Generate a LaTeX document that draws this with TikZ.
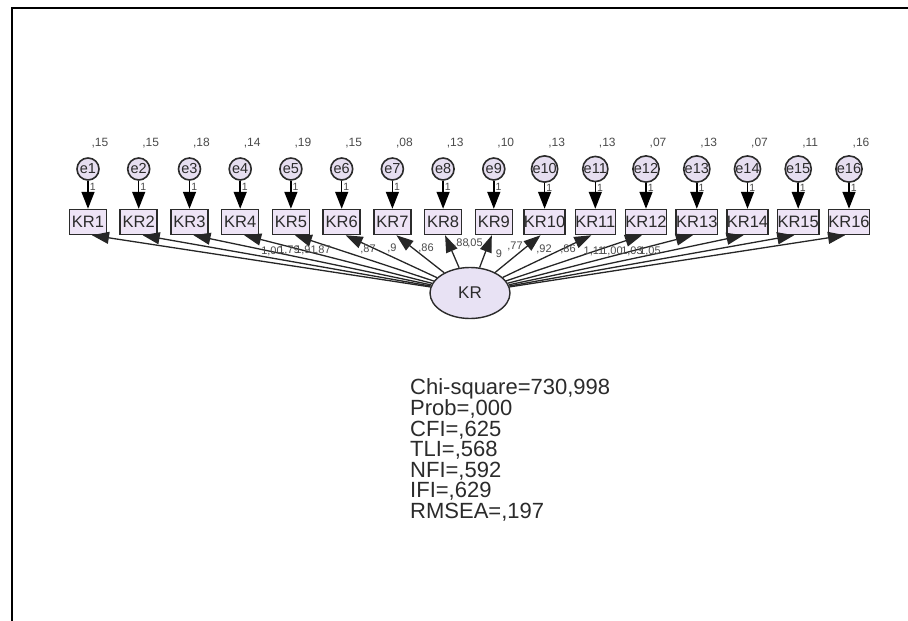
\documentclass[tikz,border=0pt]{standalone}
\usepackage{fontspec}
\setmainfont{Liberation Sans}
\usepackage{xcolor}
\usepackage{tikz}
\usetikzlibrary{positioning,arrows.meta,shapes.geometric}
\definecolor{boxfill}{RGB}{238,228,246}
\definecolor{circfill}{RGB}{230,222,240}
\definecolor{latfill}{RGB}{232,226,244}
\definecolor{inkdark}{HTML}{2B2B2B}
\definecolor{labgray}{HTML}{4A4A4A}

\begin{document}
\begin{tikzpicture}[x=1pt, y=-1pt,
  obsbox/.style={draw=inkdark, fill=boxfill, line width=1.5pt, minimum width=37pt, minimum height=25pt, inner sep=0pt, font=\fontsize{16.5}{16.5}\selectfont, text=inkdark},
  errcirc/.style={circle, draw=inkdark, fill=circfill, line width=1.6pt, minimum size=22pt, inner sep=0pt, font=\fontsize{14.5}{14.5}\selectfont, text=inkdark},
  latent/.style={ellipse, draw=inkdark, fill=latfill, line width=1.4pt, minimum width=80pt, minimum height=51pt, inner sep=0pt, font=\fontsize{17}{17}\selectfont, text=inkdark},
  varlabel/.style={inner sep=0pt, font=\fontsize{12}{12}\selectfont, text=labgray},
  loadlabel/.style={inner sep=0pt, font=\fontsize{11}{11}\selectfont, text=labgray},
  onelabel/.style={right, pos=0.2, inner sep=1pt, font=\fontsize{10.5}{10.5}\selectfont, text=labgray},
  errarrow/.style={-{Triangle[length=17pt, width=13pt]}, draw=black, line width=1.5pt},
  loadarrow/.style={-{Triangle[length=17pt, width=12pt]}, draw=black!85, line width=1.3pt},
  fitnote/.style={anchor=north west, inner sep=0pt, align=left, font=\fontsize{22}{20.5}\selectfont, text=inkdark}]
\useasboundingbox (0,0) rectangle (908,621);
% frame of the screenshot
\draw[line width=2pt] (12,621) -- (12,8) -- (908,8);
% error terms and indicators
\node[errcirc] (e1) at (88.0,169) {e1};
\node[varlabel] (v1) at (100.0,143) {,15};
\node[obsbox] (kr1) at (88.0,222) {KR1};
\draw[errarrow] (e1) -- node[onelabel] {1} (kr1);
\node[errcirc] (e2) at (138.7,169) {e2};
\node[varlabel] (v2) at (150.7,143) {,15};
\node[obsbox] (kr2) at (138.7,222) {KR2};
\draw[errarrow] (e2) -- node[onelabel] {1} (kr2);
\node[errcirc] (e3) at (189.5,169) {e3};
\node[varlabel] (v3) at (201.5,143) {,18};
\node[obsbox] (kr3) at (189.5,222) {KR3};
\draw[errarrow] (e3) -- node[onelabel] {1} (kr3);
\node[errcirc] (e4) at (240.2,169) {e4};
\node[varlabel] (v4) at (252.2,143) {,14};
\node[obsbox] (kr4) at (240.2,222) {KR4};
\draw[errarrow] (e4) -- node[onelabel] {1} (kr4);
\node[errcirc] (e5) at (290.9,169) {e5};
\node[varlabel] (v5) at (302.9,143) {,19};
\node[obsbox] (kr5) at (290.9,222) {KR5};
\draw[errarrow] (e5) -- node[onelabel] {1} (kr5);
\node[errcirc] (e6) at (341.7,169) {e6};
\node[varlabel] (v6) at (353.7,143) {,15};
\node[obsbox] (kr6) at (341.7,222) {KR6};
\draw[errarrow] (e6) -- node[onelabel] {1} (kr6);
\node[errcirc] (e7) at (392.4,169) {e7};
\node[varlabel] (v7) at (404.4,143) {,08};
\node[obsbox] (kr7) at (392.4,222) {KR7};
\draw[errarrow] (e7) -- node[onelabel] {1} (kr7);
\node[errcirc] (e8) at (443.1,169) {e8};
\node[varlabel] (v8) at (455.1,143) {,13};
\node[obsbox] (kr8) at (443.1,222) {KR8};
\draw[errarrow] (e8) -- node[onelabel] {1} (kr8);
\node[errcirc] (e9) at (493.8,169) {e9};
\node[varlabel] (v9) at (505.8,143) {,10};
\node[obsbox] (kr9) at (493.8,222) {KR9};
\draw[errarrow] (e9) -- node[onelabel] {1} (kr9);
\node[errcirc] (e10) at (544.6,169) {e10};
\node[varlabel] (v10) at (556.6,143) {,13};
\node[obsbox] (kr10) at (544.6,222) {KR10};
\draw[errarrow] (e10) -- node[onelabel] {1} (kr10);
\node[errcirc] (e11) at (595.3,169) {e11};
\node[varlabel] (v11) at (607.3,143) {,13};
\node[obsbox] (kr11) at (595.3,222) {KR11};
\draw[errarrow] (e11) -- node[onelabel] {1} (kr11);
\node[errcirc] (e12) at (646.0,169) {e12};
\node[varlabel] (v12) at (658.0,143) {,07};
\node[obsbox] (kr12) at (646.0,222) {KR12};
\draw[errarrow] (e12) -- node[onelabel] {1} (kr12);
\node[errcirc] (e13) at (696.8,169) {e13};
\node[varlabel] (v13) at (708.8,143) {,13};
\node[obsbox] (kr13) at (696.8,222) {KR13};
\draw[errarrow] (e13) -- node[onelabel] {1} (kr13);
\node[errcirc] (e14) at (747.5,169) {e14};
\node[varlabel] (v14) at (759.5,143) {,07};
\node[obsbox] (kr14) at (747.5,222) {KR14};
\draw[errarrow] (e14) -- node[onelabel] {1} (kr14);
\node[errcirc] (e15) at (798.2,169) {e15};
\node[varlabel] (v15) at (810.2,143) {,11};
\node[obsbox] (kr15) at (798.2,222) {KR15};
\draw[errarrow] (e15) -- node[onelabel] {1} (kr15);
\node[errcirc] (e16) at (849.0,169) {e16};
\node[varlabel] (v16) at (861.0,143) {,16};
\node[obsbox] (kr16) at (849.0,222) {KR16};
\draw[errarrow] (e16) -- node[onelabel] {1} (kr16);
% latent factor and loadings
\node[latent] (kr) at (470,293) {KR};
\draw[loadarrow] (kr) -- ([xshift=4pt]kr1.south);
\draw[loadarrow] (kr) -- ([xshift=4pt]kr2.south);
\draw[loadarrow] (kr) -- ([xshift=4pt]kr3.south);
\draw[loadarrow] (kr) -- ([xshift=4pt]kr4.south);
\draw[loadarrow] (kr) -- ([xshift=4pt]kr5.south);
\draw[loadarrow] (kr) -- ([xshift=4pt]kr6.south);
\draw[loadarrow] (kr) -- ([xshift=4pt]kr7.south);
\draw[loadarrow] (kr) -- ([xshift=2pt]kr8.south);
\draw[loadarrow] (kr) -- ([xshift=-2pt]kr9.south);
\draw[loadarrow] (kr) -- ([xshift=-4pt]kr10.south);
\draw[loadarrow] (kr) -- ([xshift=-4pt]kr11.south);
\draw[loadarrow] (kr) -- ([xshift=-4pt]kr12.south);
\draw[loadarrow] (kr) -- ([xshift=-4pt]kr13.south);
\draw[loadarrow] (kr) -- ([xshift=-4pt]kr14.south);
\draw[loadarrow] (kr) -- ([xshift=-4pt]kr15.south);
\draw[loadarrow] (kr) -- ([xshift=-4pt]kr16.south);
\node[loadlabel] (l1) at (272,251) {1,00};
\node[loadlabel] (l2) at (289,250) {1,79};
\node[loadlabel] (l3) at (306,250) {1,91};
\node[loadlabel] (l4) at (323,250) {,87};
\node[loadlabel] (l5) at (368,249) {,87};
\node[loadlabel] (l6) at (392,248) {,9};
\node[loadlabel] (l7) at (426,248) {,86};
\node[loadlabel] (l8) at (461,243) {,88};
\node[loadlabel] (l9) at (475,243) {,05};
\node[loadlabel] (l9b) at (499,254) {9};
\node[loadlabel] (l10) at (515,246) {,77};
\node[loadlabel] (l11) at (544,249) {,92};
\node[loadlabel] (l12) at (568,249) {,86};
\node[loadlabel] (l13) at (594,251) {1,11};
\node[loadlabel] (l14) at (612,251) {1,00};
\node[loadlabel] (l15) at (632,251) {1,03};
\node[loadlabel] (l16) at (650,251) {1,05};
% fit indices
\node[fitnote] (fit) at (410,378) {Chi-square=730,998\\Prob=,000\\CFI=,625\\TLI=,568\\NFI=,592\\IFI=,629\\RMSEA=,197};
\end{tikzpicture}
\end{document}
